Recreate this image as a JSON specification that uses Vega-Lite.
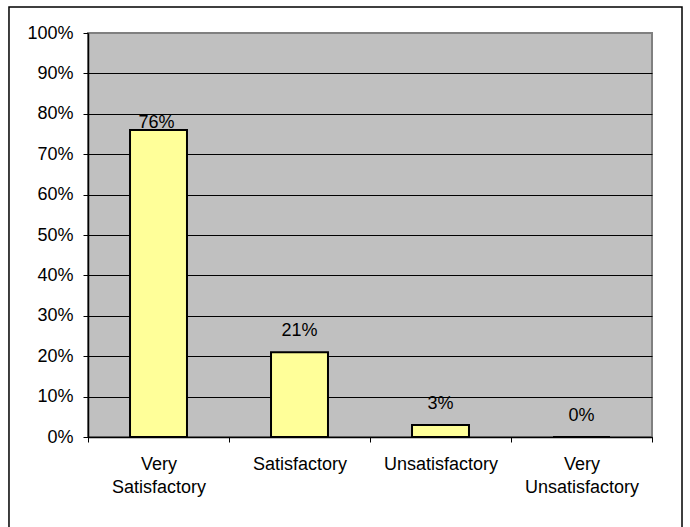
{
  "$schema": "https://vega.github.io/schema/vega-lite/v6.json",
  "width": 564,
  "height": 404,
  "autosize": {"type": "none"},
  "padding": {"left": 88, "top": 33, "right": 38, "bottom": 90},
  "background": "white",
  "config": {
    "font": "Liberation Sans",
    "view": {"fill": "#C0C0C0", "stroke": "#808080", "strokeWidth": 2},
    "axis": {
      "labelFont": "Liberation Sans",
      "labelFontSize": 18,
      "labelColor": "black",
      "domainColor": "black",
      "domainWidth": 1.5,
      "tickColor": "black",
      "tickWidth": 1,
      "tickSize": 5,
      "title": null
    }
  },
  "resolve": {"scale": {"x": "independent"}},
  "layer": [
    {
      "data": {
        "values": [
          {"rating": "Very Satisfactory", "share": 0.76},
          {"rating": "Satisfactory", "share": 0.21},
          {"rating": "Unsatisfactory", "share": 0.03},
          {"rating": "Very Unsatisfactory", "share": 0.0}
        ]
      },
      "layer": [
        {
          "mark": {"type": "bar", "fill": "#FFFF99", "stroke": "black", "strokeWidth": 2, "width": {"band": 0.404}},
          "encoding": {
            "x": {
              "field": "rating",
              "type": "nominal",
              "sort": null,
              "scale": {"paddingInner": 0, "paddingOuter": 0},
              "axis": {
                "tickBand": "extent",
                "labelAngle": 0,
                "labelPadding": 13,
                "labelLineHeight": 23,
                "labelExpr": "split(datum.label, ' ')"
              }
            },
            "y": {
              "field": "share",
              "type": "quantitative",
              "scale": {"domain": [0, 1], "nice": false},
              "axis": {
                "values": [0, 0.1, 0.2, 0.3, 0.4, 0.5, 0.6, 0.7, 0.8, 0.9, 1],
                "format": ".0%",
                "grid": true,
                "gridColor": "black",
                "gridWidth": 1,
                "gridOpacity": {"condition": {"test": "datum.value >= 0.99", "value": 0}, "value": 1},
                "labelPadding": 10
              }
            }
          }
        },
        {
          "transform": [{"filter": "datum.share < 0.5"}],
          "mark": {"type": "text", "dy": -16, "baseline": "alphabetic", "fontSize": 18, "color": "black"},
          "encoding": {
            "x": {"field": "rating", "type": "nominal", "sort": null},
            "y": {"field": "share", "type": "quantitative"},
            "text": {"field": "share", "type": "quantitative", "format": ".0%"}
          }
        },
        {
          "transform": [{"filter": "datum.share >= 0.5"}],
          "mark": {"type": "text", "dy": -2, "dx": -2, "baseline": "alphabetic", "fontSize": 18, "color": "black"},
          "encoding": {
            "x": {"field": "rating", "type": "nominal", "sort": null},
            "y": {"field": "share", "type": "quantitative"},
            "text": {"field": "share", "type": "quantitative", "format": ".0%"}
          }
        }
      ]
    },
    {
      "data": {"values": [{"frame": "chart area"}]},
      "mark": {"type": "rect", "fillOpacity": 0, "stroke": "black", "strokeWidth": 1.5},
      "encoding": {
        "x": {"datum": -0.1401, "type": "quantitative", "scale": {"domain": [0, 1], "nice": false, "zero": false}, "axis": null},
        "x2": {"datum": 1.0532},
        "y": {"datum": 1.0644, "type": "quantitative"},
        "y2": {"datum": -0.23}
      }
    }
  ]
}
